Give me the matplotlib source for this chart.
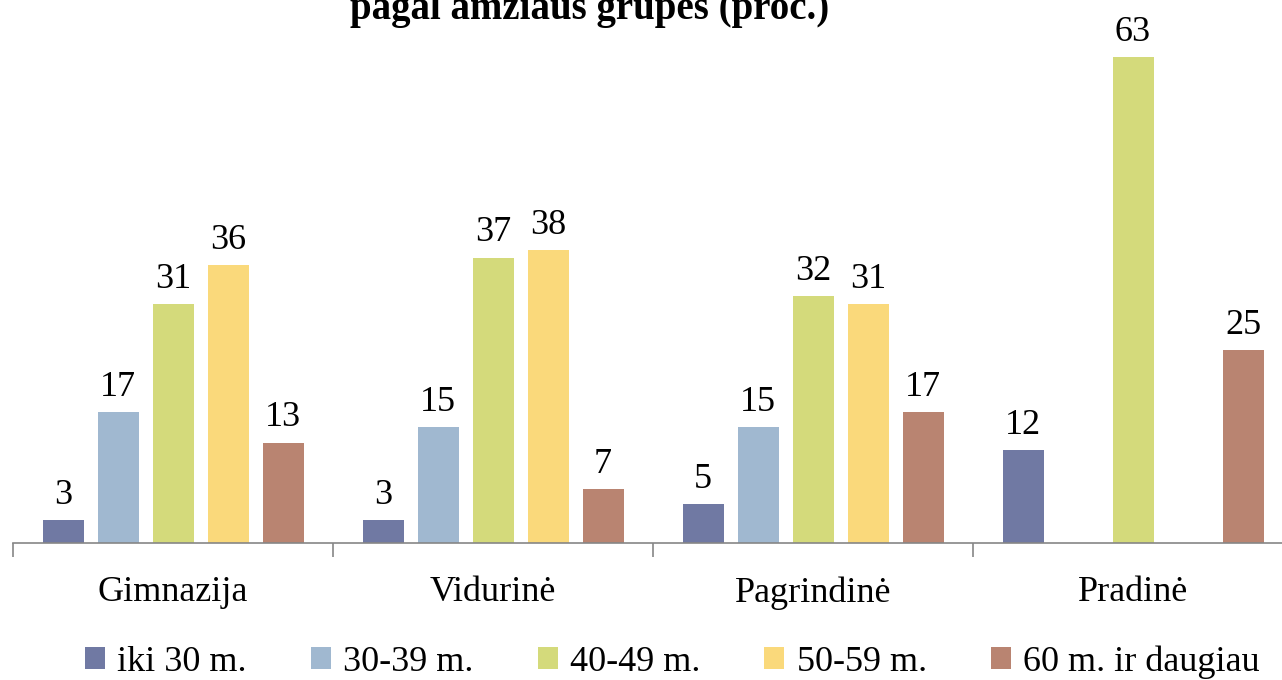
import matplotlib
matplotlib.use("Agg")
import matplotlib.pyplot as plt
import numpy as np

categories = ["Gimnazija", "Vidurinė", "Pagrindinė", "Pradinė"]
series_names = ["iki 30 m.", "30-39 m.", "40-49 m.", "50-59 m.", "60 m. ir daugiau"]
iki30 = [3, 3, 5, 12]
m30_39 = [17, 15, 15, np.nan]
m40_49 = [31, 37, 32, 63]
m50_59 = [36, 38, 31, np.nan]
m60 = [13, 7, 17, 25]
series_values = [iki30, m30_39, m40_49, m50_59, m60]
colors = ["#7079A3", "#A0B8D0", "#D4DA7B", "#FAD97B", "#B98471"]
title = "pagal amžiaus grupes (proc.)"

plt.rcParams['font.family'] = ['Liberation Serif', 'DejaVu Serif']
FS = 26

W, H = 1282, 680
fig = plt.figure(figsize=(W / 100, H / 100), dpi=100)
left, right, bottom, top = 13, 1293, 543, 3
ax = fig.add_axes([left / W, 1 - bottom / H, (right - left) / W, (bottom - top) / H])

x = np.arange(len(categories))
step = 55 / 320
width = 41 / 320
for i, (name, vals, c) in enumerate(zip(series_names, series_values, colors)):
    offs = (i - 2) * step
    bars = ax.bar(x + offs, vals, width=width, color=c, label=name)
    labels = ["" if np.isnan(v) else f"{int(v)}" for v in vals]
    ax.bar_label(bars, labels=labels, padding=6, fontsize=FS)

ax.set_xlim(-0.5, len(categories) - 0.5)
ax.set_ylim(0, 70)
for s in ["top", "right", "left"]:
    ax.spines[s].set_visible(False)
ax.spines["bottom"].set_color("#868686")
ax.spines["bottom"].set_linewidth(1.2)
ax.set_yticks([])
ax.set_xticks(np.arange(len(categories) + 1) - 0.5)
ax.set_xticklabels([])
ax.set_xticks(x, minor=True)
ax.set_xticklabels(categories, minor=True, fontsize=FS)
ax.tick_params(axis="x", which="major", length=10, color="#868686", width=1.2)
ax.tick_params(axis="x", which="minor", length=0, pad=24)

fig.text(590 / W, 1 - 19 / H, title, ha="center", va="baseline",
         fontsize=28, fontweight="bold")

handles, labs = ax.get_legend_handles_labels()
fig.legend(handles, labs, loc="center", bbox_to_anchor=(0.5246, 1 - 662 / H), ncol=5,
           frameon=False, fontsize=FS, handlelength=0.55, handleheight=0.55,
           handletextpad=0.35, columnspacing=1.77)

fig.savefig("out.png", dpi=100)
